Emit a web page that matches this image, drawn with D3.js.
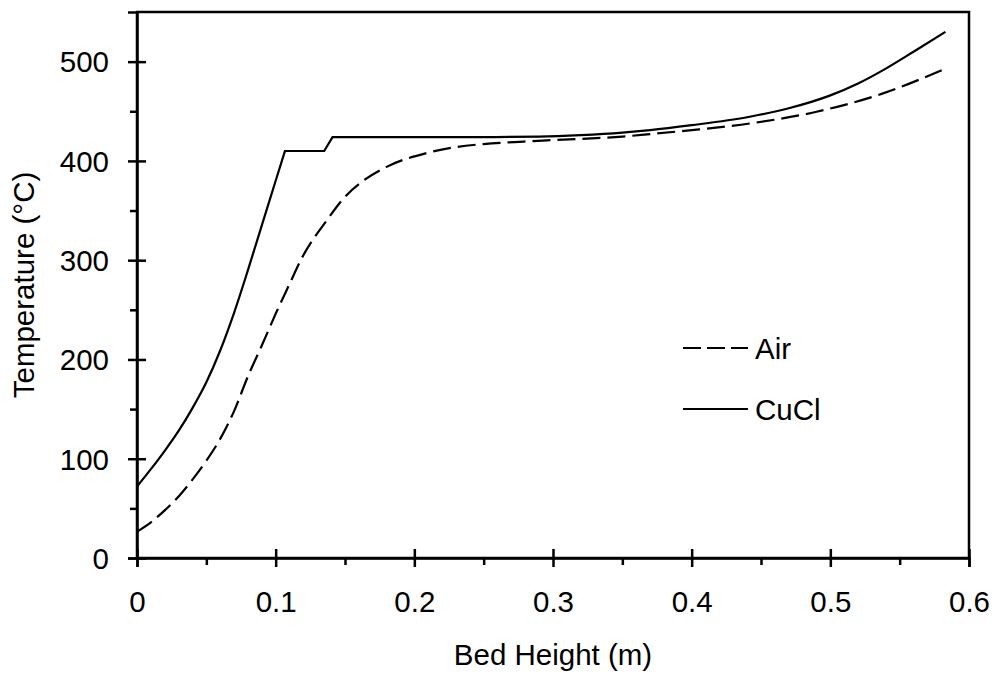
<!DOCTYPE html>
<html lang="en">
  <head>
      <meta charset="utf-8">
      <title>Bed Height vs Temperature</title>
      <script type="text/javascript" src="https://cdn.jsdelivr.net/npm/d3@7"></script>
      <style>
        body { margin: 0; background: #fff; }
        text { font-family: "Liberation Sans", Arial, sans-serif; }
      </style>
  </head>
  <body>
      <script type="text/javascript">

      // data
      var airX = [0, 0.01, 0.02, 0.03, 0.04, 0.05, 0.06, 0.07, 0.08, 0.09, 0.1, 0.11, 0.1188, 0.1368, 0.1488, 0.1632, 0.18, 0.209, 0.228, 0.25, 0.279, 0.3, 0.35, 0.37, 0.4, 0.442, 0.49, 0.538, 0.583];
      var airT = [26.5, 36, 48, 62, 79, 98, 120, 148, 183, 214, 246, 276, 302, 340, 362, 380, 394, 408, 413.5, 417, 419.5, 421, 424.5, 427, 431, 437.7, 449.5, 468, 493];
      var cuclX = [0, 0.01, 0.02, 0.03, 0.04, 0.05, 0.06, 0.07, 0.08, 0.09, 0.1, 0.1067, 0.135, 0.141, 0.2, 0.25, 0.29, 0.32, 0.35, 0.37, 0.4, 0.44, 0.47, 0.5, 0.52, 0.54, 0.56, 0.583];
      var cuclT = [72, 89.5, 108, 128, 151, 177, 209, 247, 290, 335, 380, 410, 410, 424, 424, 424, 424.5, 426, 428.5, 431, 436, 444, 453, 466, 478, 493, 510, 530];
      var seriesNames = ["Air", "CuCl"];
      var xTicks = [0, 0.1, 0.2, 0.3, 0.4, 0.5, 0.6];
      var xMinor = [0.05, 0.15, 0.25, 0.35, 0.45, 0.55];
      var yTicks = [0, 100, 200, 300, 400, 500];
      var yMinor = [50, 150, 250, 350, 450];

      var w = 995;
      var h = 673;
      var pLeft = 137, pTop = 12, pRight = 969, pBottom = 558;
      var fs = "29.5px";

      var svg = d3.select("body").append("svg").attr("width", w).attr("height", h);

      var x = d3.scaleLinear().domain([0, 0.6]).range([pLeft, pRight]);
      var y = d3.scaleLinear().domain([0, 550]).range([pBottom, pTop]);

      // frame
      svg.append("rect").attr("x", pLeft).attr("y", pTop).attr("width", pRight - pLeft).attr("height", pBottom - pTop)
        .attr("fill", "none").attr("stroke", "black").attr("stroke-width", 2.5);

      // x axis, major ticks cross the line
      var gx = svg.append("g").attr("transform", "translate(0," + pBottom + ")")
        .call(d3.axisBottom(x).tickValues(xTicks).tickSize(9).tickFormat(d3.format("")));
      gx.selectAll(".tick line").attr("y1", -9).attr("stroke-width", 2.5);
      gx.selectAll(".tick text").attr("dy", null).attr("y", 54).attr("font-size", fs).attr("font-family", "Liberation Sans, Arial, sans-serif");
      gx.select(".domain").attr("stroke-width", 2.5);
      var gxm = svg.append("g").attr("transform", "translate(0," + pBottom + ")")
        .call(d3.axisBottom(x).tickValues(xMinor).tickSize(7).tickFormat(""));
      gxm.selectAll(".tick line").attr("stroke-width", 2.5);
      gxm.select(".domain").remove();

      // y axis
      var gy = svg.append("g").attr("transform", "translate(" + pLeft + ",0)")
        .call(d3.axisLeft(y).tickValues(yTicks).tickSize(9));
      gy.selectAll(".tick line").attr("x1", 9).attr("stroke-width", 2.5);
      gy.selectAll(".tick text").attr("x", -28).attr("dy", "0.35em").attr("font-size", fs).attr("font-family", "Liberation Sans, Arial, sans-serif");
      gy.select(".domain").attr("stroke-width", 2.5);
      var gym = svg.append("g").attr("transform", "translate(" + pLeft + ",0)")
        .call(d3.axisLeft(y).tickValues(yMinor).tickSize(7).tickFormat(""));
      gym.selectAll(".tick line").attr("stroke-width", 2.5);
      gym.select(".domain").remove();

      // axis titles
      svg.append("text").text("Bed Height (m)").attr("x", (pLeft + pRight) / 2).attr("y", 665)
        .attr("text-anchor", "middle").attr("font-size", fs);
      svg.append("text").text("Temperature (°C)")
        .attr("transform", "translate(34," + (pTop + pBottom) / 2 + ") rotate(-90)")
        .attr("text-anchor", "middle").attr("font-size", fs);

      // curves
      var airPts = d3.zip(airX, airT);
      var cuclPts = d3.zip(cuclX, cuclT);
      var smooth = d3.line().x(function(d){ return x(d[0]); }).y(function(d){ return y(d[1]); }).curve(d3.curveMonotoneX);
      var straight = d3.line().x(function(d){ return x(d[0]); }).y(function(d){ return y(d[1]); });

      svg.append("path").attr("d", smooth(airPts)).attr("fill", "none").attr("stroke", "black")
        .attr("stroke-width", 2.2).attr("stroke-dasharray", "18,7");

      // CuCl has sharp corners at the plateau steps
      var cuclPath = smooth(cuclPts.slice(0, 12)) + straight(cuclPts.slice(11, 14)).replace("M", "L") + smooth(cuclPts.slice(13)).replace("M", "L");
      svg.append("path").attr("d", cuclPath).attr("fill", "none").attr("stroke", "black")
        .attr("stroke-width", 2.2).attr("stroke-linejoin", "miter");

      // legend
      var leg = svg.selectAll(".leg").data(seriesNames).enter().append("g").attr("class", "leg")
        .attr("transform", function(d, i){ return "translate(683," + (348 + i * 61) + ")"; });
      leg.append("line").attr("x1", 0).attr("x2", 65).attr("y1", 0).attr("y2", 0)
        .attr("stroke", "black").attr("stroke-width", 2.2)
        .attr("stroke-dasharray", function(d, i){ return i == 0 ? "18,6" : null; });
      leg.append("text").text(function(d){ return d; }).attr("x", 72).attr("y", 11).attr("font-size", fs);

      </script>
  </body>
</html>
